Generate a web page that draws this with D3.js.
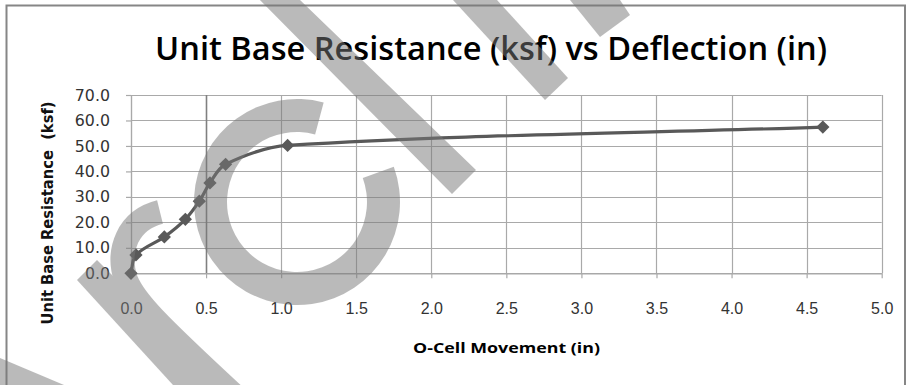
<!DOCTYPE html>
<html>
<head>
<meta charset="utf-8">
<script src="https://cdn.jsdelivr.net/npm/d3@7"></script>
<style>
  body { margin: 0; background: #fff; }
  svg { display: block; }
</style>
</head>
<body>
<svg id="chart" width="906" height="385"></svg>
<script>
// Load test: O-cell movement (in) against unit base resistance (ksf)
const movement   = [0, 0.033, 0.222, 0.362, 0.455, 0.526, 0.630, 1.043, 4.608];
const resistance = [0, 7.2, 14.3, 21.2, 28.3, 35.5, 42.8, 50.2, 57.4];

const xTickValues = [0, 0.5, 1, 1.5, 2, 2.5, 3, 3.5, 4, 4.5, 5];
const yTickValues = [0, 10, 20, 30, 40, 50, 60, 70];

const titleText = "Unit Base Resistance (ksf) vs Deflection (in)";
const xTitleText = "O-Cell Movement (in)";
const yTitleText = "Unit Base Resistance  (ksf)";

const svg = d3.select("#chart");

// plot area
const plotLeft = 131, plotRight = 881.7, plotTop = 95, plotBottom = 273.3;
const x = d3.scaleLinear().domain([0, 5]).range([plotLeft, plotRight]);
const y = d3.scaleLinear().domain([0, 70]).range([plotBottom, plotTop]);

// chart frame
svg.append("rect")
  .attr("x", 6.5).attr("y", 5.5).attr("width", 898.5).attr("height", 420)
  .attr("fill", "none").attr("stroke", "#868686").attr("stroke-width", 2);

// gridlines
const grid = svg.append("g");
grid.selectAll("line.h").data(yTickValues).join("line")
  .attr("x1", plotLeft).attr("x2", plotRight)
  .attr("y1", d => Math.round(y(d)) + 0.5).attr("y2", d => Math.round(y(d)) + 0.5)
  .attr("stroke", "#a9a9a9").attr("stroke-width", 1.2);
grid.selectAll("line.v").data(xTickValues).join("line")
  .attr("y1", plotTop).attr("y2", plotBottom)
  .attr("x1", d => Math.round(x(d)) + 0.5).attr("x2", d => Math.round(x(d)) + 0.5)
  .attr("stroke", d => d === 0.5 ? "#808080" : "#a9a9a9")
  .attr("stroke-width", d => d === 0.5 ? 1.6 : 1.2);

// axes
const xAxis = d3.axisBottom(x).tickValues(xTickValues).tickSizeInner(5).tickSizeOuter(0)
  .tickPadding(24).tickFormat(d3.format(".1f"));
const gx = svg.append("g").attr("transform", `translate(0,${plotBottom})`).call(xAxis);
gx.select(".domain").attr("stroke", "#a9a9a9").attr("stroke-width", 1.2);
gx.selectAll(".tick line").attr("stroke", "#a9a9a9").attr("stroke-width", 1.2);
gx.selectAll(".tick text")
  .attr("font-family", "'Liberation Sans', Arial, sans-serif")
  .attr("font-size", 16).attr("fill", "#333");

const yAxis = d3.axisLeft(y).tickValues(yTickValues).tickSizeInner(5).tickSizeOuter(0)
  .tickPadding(16).tickFormat(d3.format(".1f"));
const gy = svg.append("g").attr("transform", `translate(${plotLeft},0)`).call(yAxis);
gy.select(".domain").attr("stroke", "#a9a9a9").attr("stroke-width", 1.2);
gy.selectAll(".tick line").attr("stroke", "#a9a9a9").attr("stroke-width", 1.2);
gy.selectAll(".tick text")
  .attr("font-family", "'DejaVu Sans', Verdana, sans-serif")
  .attr("font-size", 15.8).attr("fill", "#333");

// titles
svg.append("text")
  .attr("x", 155).attr("y", 60)
  .attr("font-family", "'Open Sans', 'Liberation Sans', sans-serif")
  .attr("font-weight", 600).attr("font-size", 32).attr("fill", "#000")
  .attr("textLength", 672).attr("lengthAdjust", "spacingAndGlyphs")
  .text(titleText);

svg.append("text")
  .attr("x", 413).attr("y", 353)
  .attr("font-family", "'Open Sans', 'Liberation Sans', sans-serif")
  .attr("font-weight", 700).attr("font-size", 15).attr("fill", "#000")
  .attr("textLength", 187).attr("lengthAdjust", "spacingAndGlyphs")
  .text(xTitleText);

svg.append("text")
  .attr("transform", "translate(53,213) rotate(-90)")
  .attr("text-anchor", "middle")
  .style("white-space", "pre")
  .attr("font-family", "'DejaVu Sans', Verdana, sans-serif")
  .attr("font-weight", 700).attr("font-size", 16).attr("fill", "#111")
  .attr("textLength", 223).attr("lengthAdjust", "spacingAndGlyphs")
  .text(yTitleText);

// series: smoothed line, each Bezier segment steered along the neighbour chord
const pts = movement.map((m, i) => [x(m), y(resistance[i])]);
function smoothPath(p) {
  const path = d3.path();
  const unit = (v) => { const l = Math.hypot(v[0], v[1]) || 1; return [v[0] / l, v[1] / l]; };
  path.moveTo(p[0][0], p[0][1]);
  for (let i = 0; i < p.length - 1; i++) {
    const a = p[i], b = p[i + 1];
    const ta = unit(i === 0 ? [b[0] - a[0], b[1] - a[1]] : [b[0] - p[i - 1][0], b[1] - p[i - 1][1]]);
    const tb = unit(i + 2 >= p.length ? [b[0] - a[0], b[1] - a[1]] : [p[i + 2][0] - a[0], p[i + 2][1] - a[1]]);
    const d = Math.hypot(b[0] - a[0], b[1] - a[1]) / 3;
    path.bezierCurveTo(a[0] + ta[0] * d, a[1] + ta[1] * d, b[0] - tb[0] * d, b[1] - tb[1] * d, b[0], b[1]);
  }
  return path.toString();
}
svg.append("path").attr("d", smoothPath(pts))
  .attr("fill", "none").attr("stroke", "#595959").attr("stroke-width", 3.2);

const diamond = d3.symbol().type(d3.symbolSquare).size(88);
svg.append("g").selectAll("path").data(pts).join("path")
  .attr("d", diamond)
  .attr("transform", d => `translate(${d[0]},${d[1]}) rotate(45)`)
  .attr("fill", "#595959");

// translucent grey stamp strokes laid over the chart
const stamp = svg.append("g").attr("opacity", 0.5).attr("fill", "rgb(120,120,120)");
stamp.append("polygon").attr("points", "258,0 300,0 476,170 452,194 250,-10");
stamp.append("polygon").attr("points", "453,0 497,0 568,78 545,100");
stamp.append("polygon").attr("points", "570,0 620,0 630,15 600,37");
stamp.append("polygon").attr("points", "0,358 64,385 0,385");
stamp.append("path")
  .attr("transform", "translate(297,202)")
  .attr("d", d3.arc()({innerRadius: 70, outerRadius: 103,
    startAngle: 70 * Math.PI / 180, endAngle: 375 * Math.PI / 180}));
stamp.append("path")
  .attr("d", "M77,280 L97,260 L235,398 L205,420 Z");
stamp.append("path")
  .attr("d", "M160,212 C128,220 116,250 126,280 C134,300 150,318 250,410")
  .attr("fill", "none").attr("stroke", "rgb(120,120,120)").attr("stroke-width", 24);
</script>
</body>
</html>
